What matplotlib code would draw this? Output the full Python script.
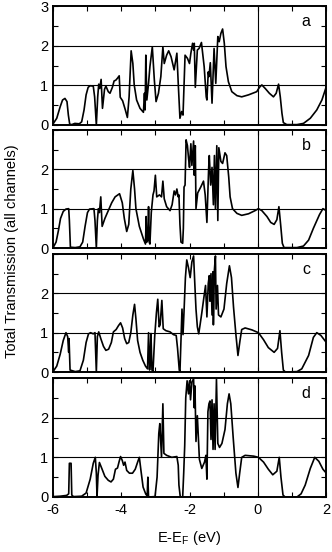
import matplotlib
matplotlib.use("Agg")
import matplotlib.pyplot as plt
from matplotlib.ticker import MultipleLocator, FixedLocator

# ============================================
# Total transmission, four configurations (a-d)
# ============================================
plt.rcParams['font.family'] = ['Liberation Sans', 'DejaVu Sans']
plt.rcParams['mathtext.fontset'] = 'custom'
plt.rcParams['mathtext.rm'] = 'Liberation Sans'
plt.rcParams['axes.unicode_minus'] = False

panel_labels = ["a", "b", "c", "d"]

xa = [-5.99, -5.89, -5.79, -5.72, -5.65, -5.59, -5.55, -5.51, -5.45, -5.36, -5.23, -5.16,
      -5.09, -5.03, -4.97, -4.91, -4.82, -4.78, -4.73, -4.69, -4.66, -4.63, -4.59, -4.55,
      -4.49, -4.45, -4.38, -4.33, -4.26, -4.21, -4.16, -4.11, -4.06, -4.03, -3.96, -3.88,
      -3.82, -3.77, -3.71, -3.66, -3.62, -3.55, -3.45, -3.35, -3.32, -3.30, -3.28, -3.25,
      -3.20, -3.16, -3.09, -3.03, -2.98, -2.91, -2.84, -2.78, -2.74, -2.67, -2.61, -2.54,
      -2.45, -2.37, -2.33, -2.28, -2.23, -2.19, -2.13, -2.06, -2.00, -1.96, -1.91, -1.88,
      -1.86, -1.83, -1.77, -1.72, -1.65, -1.57, -1.51, -1.49, -1.45, -1.43, -1.39, -1.34,
      -1.28, -1.23, -1.17, -1.13, -1.08, -1.03, -0.98, -0.93, -0.86, -0.76, -0.61, -0.47,
      -0.27, -0.03, 0.05, 0.12, 0.22, 0.34, 0.46, 0.54, 0.61, 0.66, 0.71, 0.75,
      0.85, 1.15, 1.34, 1.54, 1.73, 1.88, 2.01]
ya = [0.04, 0.17, 0.46, 0.63, 0.67, 0.59, 0.25, 0.02, 0.01, 0.04, 0.03, 0.08,
      0.38, 0.76, 0.95, 0.99, 0.98, 0.71, 0.00, 0.71, 1.03, 0.92, 1.15, 0.42,
      0.90, 0.98, 0.84, 0.80, 0.95, 1.11, 1.13, 1.18, 1.24, 0.70, 0.61, 0.38,
      0.19, 0.71, 1.87, 1.55, 1.01, 0.63, 0.42, 0.32, 0.80, 0.38, 1.76, 0.63,
      1.05, 1.47, 1.97, 1.13, 0.59, 0.80, 1.22, 1.97, 1.55, 1.76, 1.87, 1.72,
      1.39, 1.81, 1.05, 0.17, 0.34, 0.25, 1.76, 1.68, 1.55, 1.81, 2.06, 1.89,
      2.06, 0.95, 1.89, 1.93, 2.08, 1.47, 0.71, 0.63, 1.34, 1.22, 1.57, 0.55,
      1.93, 1.05, 2.23, 2.10, 2.31, 2.42, 2.06, 1.47, 1.09, 0.84, 0.74, 0.71,
      0.76, 0.84, 0.95, 1.01, 0.92, 0.80, 0.71, 0.80, 1.03, 0.71, 0.29, 0.06,
      0.01, 0.01, 0.04, 0.17, 0.38, 0.63, 0.97]

xb = [-5.99, -5.91, -5.84, -5.78, -5.70, -5.62, -5.54, -5.52, -5.49, -5.35, -5.21, -5.13,
      -5.06, -4.99, -4.93, -4.80, -4.77, -4.73, -4.70, -4.67, -4.64, -4.60, -4.56, -4.48,
      -4.38, -4.28, -4.18, -4.05, -3.97, -3.91, -3.84, -3.78, -3.72, -3.66, -3.61, -3.57,
      -3.47, -3.35, -3.29, -3.27, -3.25, -3.22, -3.20, -3.18, -3.16, -3.12, -3.07, -3.04,
      -3.00, -2.96, -2.88, -2.82, -2.78, -2.74, -2.67, -2.57, -2.51, -2.45, -2.41, -2.37,
      -2.33, -2.31, -2.28, -2.25, -2.20, -2.18, -2.16, -2.13, -2.10, -2.06, -2.03, -2.00,
      -1.96, -1.93, -1.88, -1.86, -1.83, -1.81, -1.76, -1.67, -1.59, -1.54, -1.49, -1.44,
      -1.42, -1.38, -1.34, -1.30, -1.27, -1.24, -1.20, -1.17, -1.14, -1.08, -1.03, -0.96,
      -0.91, -0.85, -0.81, -0.74, -0.61, -0.47, -0.27, -0.08, 0.02, 0.12, 0.27, 0.38,
      0.48, 0.56, 0.62, 0.67, 0.72, 0.77, 1.15, 1.34, 1.49, 1.63, 1.81, 1.91, 2.01]
yb = [0.02, 0.15, 0.45, 0.75, 0.93, 0.99, 1.00, 0.70, 0.02, 0.01, 0.03, 0.15,
      0.55, 0.90, 0.99, 1.00, 0.70, 0.00, 0.70, 1.00, 0.90, 1.30, 0.55, 0.75,
      0.95, 1.15, 1.30, 1.38, 1.15, 0.75, 0.42, 0.60, 1.50, 1.97, 1.50, 1.00,
      0.55, 0.23, 0.10, 0.80, 0.15, 0.20, 1.05, 0.15, 0.10, 0.90, 1.35, 1.45,
      1.85, 1.30, 1.35, 1.30, 1.70, 1.25, 1.05, 0.95, 1.10, 1.45, 1.35, 1.50,
      1.30, 1.35, 0.60, 0.15, 0.12, 0.50, 1.55, 1.60, 2.75, 2.60, 2.30, 2.05,
      2.65, 2.10, 2.72, 1.85, 2.60, 1.00, 1.40, 1.55, 1.70, 1.35, 0.65, 2.00,
      2.35, 1.60, 2.05, 1.10, 2.35, 1.00, 2.60, 0.70, 2.55, 2.20, 2.15, 2.42,
      2.35, 1.80, 1.30, 1.00, 0.88, 0.83, 0.87, 0.95, 1.00, 0.95, 0.80, 0.65,
      0.60, 0.72, 1.05, 0.60, 0.12, 0.01, 0.01, 0.05, 0.20, 0.50, 0.85, 1.00, 0.95]

xc = [-5.99, -5.89, -5.79, -5.70, -5.62, -5.57, -5.54, -5.53, -5.50, -5.35, -5.21, -5.11,
      -5.03, -4.96, -4.90, -4.82, -4.77, -4.73, -4.70, -4.66, -4.60, -4.52, -4.45, -4.37,
      -4.29, -4.23, -4.15, -4.08, -4.02, -3.96, -3.90, -3.84, -3.78, -3.72, -3.66, -3.61,
      -3.57, -3.52, -3.45, -3.37, -3.29, -3.23, -3.20, -3.17, -3.15, -3.13, -3.10, -3.07,
      -3.02, -2.97, -2.93, -2.89, -2.86, -2.81, -2.77, -2.69, -2.57, -2.47, -2.39, -2.35,
      -2.30, -2.28, -2.25, -2.22, -2.19, -2.16, -2.12, -2.08, -2.03, -1.98, -1.93, -1.88,
      -1.85, -1.81, -1.77, -1.73, -1.69, -1.64, -1.57, -1.53, -1.49, -1.45, -1.42, -1.40,
      -1.37, -1.34, -1.31, -1.30, -1.27, -1.24, -1.22, -1.18, -1.15, -1.08, -0.99, -0.91,
      -0.83, -0.77, -0.71, -0.64, -0.58, -0.52, -0.47, -0.37, -0.17, 0.02, 0.17, 0.31,
      0.48, 0.58, 0.65, 0.70, 0.75, 0.81, 1.15, 1.29, 1.49, 1.63, 1.73, 1.85, 2.01]
yc = [0.02, 0.15, 0.45, 0.80, 1.00, 0.90, 0.50, 0.85, 0.05, 0.01, 0.03, 0.30,
      0.75, 0.97, 1.00, 0.97, 1.00, 0.00, 0.90, 1.02, 0.85, 0.65, 0.55, 0.58,
      0.75, 1.02, 1.08, 1.18, 1.25, 1.12, 0.85, 0.72, 0.75, 1.00, 1.45, 1.72,
      1.35, 0.80, 0.50, 0.30, 0.15, 0.08, 1.00, 0.05, 0.30, 0.98, 0.05, 0.02,
      0.90, 1.50, 1.85, 1.15, 1.20, 1.82, 1.10, 1.05, 1.02, 0.95, 0.93, 0.60,
      0.05, 0.00, 0.80, 1.60, 0.95, 1.55, 2.40, 2.85, 2.65, 2.40, 2.80, 2.95,
      2.35, 1.60, 1.15, 0.97, 1.20, 1.50, 1.95, 2.20, 1.40, 2.25, 2.45, 1.80,
      2.50, 1.45, 2.55, 1.20, 2.60, 2.95, 1.60, 2.20, 1.45, 1.40, 1.60, 2.25,
      2.70, 2.40, 1.65, 0.95, 0.42, 0.80, 1.08, 1.12, 1.07, 1.00, 0.82, 0.62,
      0.50, 0.60, 1.05, 0.50, 0.05, 0.00, 0.01, 0.08, 0.42, 0.88, 1.00, 0.93, 0.75]

xd = [-5.99, -5.79, -5.60, -5.54, -5.52, -5.47, -5.45, -5.40, -5.16, -5.03, -4.91, -4.82,
      -4.76, -4.73, -4.71, -4.68, -4.64, -4.57, -4.48, -4.38, -4.30, -4.23, -4.17, -4.11,
      -4.06, -4.02, -3.97, -3.93, -3.89, -3.84, -3.76, -3.67, -3.59, -3.52, -3.47, -3.42,
      -3.36, -3.28, -3.24, -3.22, -3.20, -3.01, -2.95, -2.90, -2.87, -2.82, -2.78, -2.75,
      -2.67, -2.52, -2.37, -2.33, -2.31, -2.27, -2.20, -2.17, -2.14, -2.11, -2.07, -2.03,
      -2.00, -1.97, -1.93, -1.88, -1.86, -1.84, -1.81, -1.77, -1.74, -1.71, -1.64, -1.56,
      -1.52, -1.49, -1.46, -1.43, -1.40, -1.37, -1.34, -1.31, -1.28, -1.25, -1.21, -1.17,
      -1.12, -1.05, -0.96, -0.89, -0.84, -0.79, -0.72, -0.64, -0.58, -0.53, -0.47, -0.37,
      -0.12, 0.02, 0.17, 0.31, 0.44, 0.56, 0.63, 0.68, 0.74, 0.80, 1.15, 1.27,
      1.39, 1.54, 1.67, 1.79, 1.91, 2.01]
yd = [0.01, 0.02, 0.04, 0.08, 0.85, 0.85, 0.05, 0.01, 0.02, 0.10, 0.45, 0.85,
      1.00, 0.60, 0.00, 0.55, 0.87, 0.72, 0.52, 0.42, 0.38, 0.45, 0.70, 0.73,
      0.90, 1.02, 0.92, 0.80, 0.88, 0.67, 0.60, 0.60, 0.70, 0.88, 1.00, 0.65,
      0.25, 0.07, 0.03, 0.50, 0.00, 0.01, 0.50, 1.60, 1.85, 1.00, 2.35, 1.10,
      1.05, 1.00, 1.02, 0.80, 0.30, 0.00, 0.00, 0.60, 1.30, 2.50, 2.93, 2.60,
      2.93, 2.45, 2.90, 2.98, 2.25, 2.80, 1.40, 2.05, 1.50, 0.95, 0.72, 0.88,
      1.05, 0.45, 2.15, 2.35, 2.42, 1.45, 2.45, 1.20, 2.35, 1.20, 2.97, 1.35,
      1.25, 1.35, 1.70, 2.35, 2.60, 2.35, 1.50, 0.60, 0.24, 0.60, 1.00, 1.05,
      1.03, 1.00, 0.88, 0.70, 0.56, 0.65, 1.00, 0.50, 0.05, 0.00, 0.00, 0.08,
      0.30, 0.72, 1.00, 0.90, 0.70, 0.60]

series = [(xa, ya), (xb, yb), (xc, yc), (xd, yd)]

# panel boxes in pixels (top, bottom) for a 332x552 figure
W, H = 332, 552
left, right = 53, 326
boxes = [(6, 125), (130, 248), (254, 372), (378, 497)]


def main():
    fig = plt.figure(figsize=(W / 100, H / 100), dpi=100)
    for i, ((x, y), (top, bot)) in enumerate(zip(series, boxes)):
        ax = fig.add_axes([left / W, 1 - bot / H, (right - left) / W, (bot - top) / H])
        ax.axhline(1, color="black", lw=0.8, zorder=1)
        ax.axhline(2, color="black", lw=0.8, zorder=1)
        ax.axvline(0, color="black", lw=0.8, zorder=1)
        ax.plot(x, y, color="black", lw=1.2, zorder=2)
        ax.set_xlim(-6, 2)
        ax.set_ylim(0, 3)
        ax.xaxis.set_major_locator(MultipleLocator(2))
        ax.xaxis.set_minor_locator(MultipleLocator(1))
        if i == 0:
            ax.yaxis.set_major_locator(FixedLocator([0, 1, 2, 3]))
        else:
            ax.yaxis.set_major_locator(FixedLocator([0, 1, 2]))
        ax.yaxis.set_minor_locator(MultipleLocator(0.5))
        ax.tick_params(which="both", direction="in", top=True, right=True,
                       length=3.6, width=0.8, labelsize=10.5)
        ax.tick_params(axis="y", pad=3.5)
        ax.tick_params(axis="x", pad=4)
        if i < 3:
            ax.tick_params(axis="x", labelbottom=False)
        for s in ax.spines.values():
            s.set_linewidth(1.4)
        ax.text(0.927, 0.87, panel_labels[i], transform=ax.transAxes,
                ha="center", va="center", fontsize=11.5)

    fig.text(12 / W, 1 - 251 / H, "Total Transmission (all channels)",
             rotation=90, ha="center", va="center", fontsize=10.5)
    fig.text((left + right) / 2 / W, 1 - 538 / H, r"E-E$_\mathrm{F}$ (eV)",
             ha="center", va="center", fontsize=10.5)
    fig.savefig("out.png", dpi=100)


if __name__ == "__main__":
    main()
